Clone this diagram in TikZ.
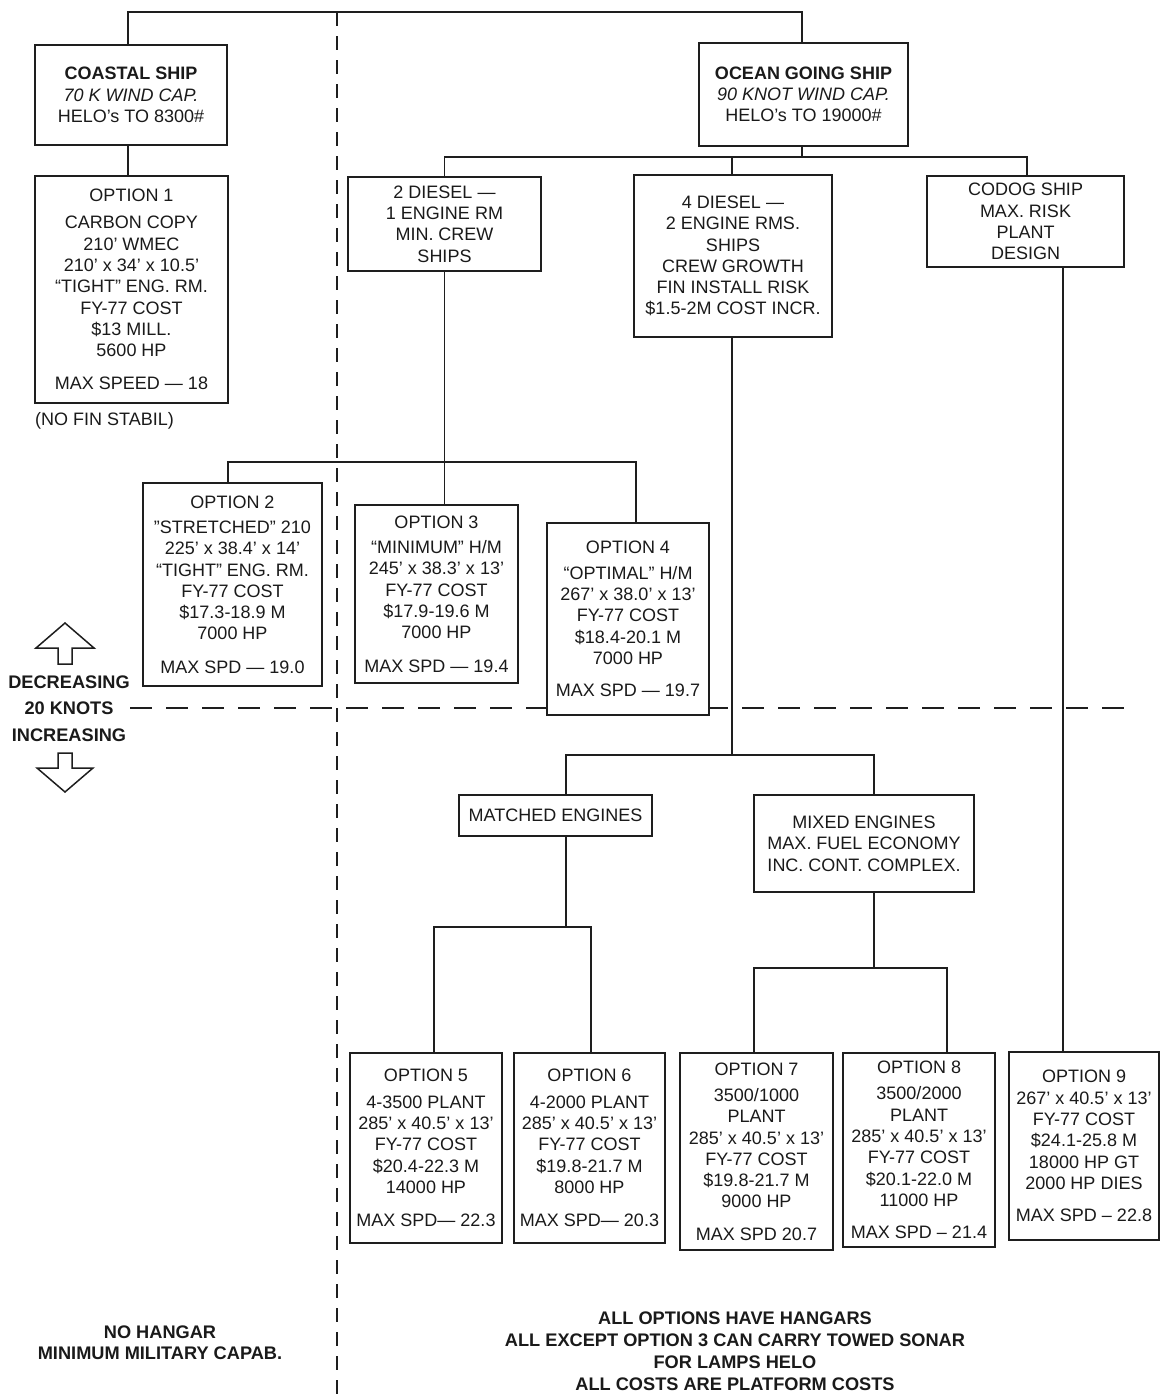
\documentclass[tikz,border=0pt]{standalone}
\usepackage{fontspec}
\setmainfont{Liberation Sans}
\definecolor{linec}{HTML}{1E1E1E}
\definecolor{textc}{HTML}{1A1A1A}
\newcommand\chartfont{\fontsize{18}{21.3}\selectfont}
\newcommand\chartbold{\fontsize{18.2}{22}\selectfont\bfseries}
\begin{document}
\begin{tikzpicture}[x=1pt,y=-1pt,
  chartbox/.style={draw=linec, line width=1.4pt, fill=white, inner sep=0pt, align=center, font=\chartfont, text=textc},
  wire/.style={draw=linec, line width=1.4pt},
  divider/.style={draw=linec, line width=1.4pt, dash pattern=on 14pt off 10pt},
  speedline/.style={draw=linec, line width=1.4pt, dash pattern=on 22pt off 14pt},
  boldlabel/.style={font=\chartbold, text=textc, align=center, inner sep=0pt},
  plainlabel/.style={font=\chartfont, text=textc, inner sep=0pt},
  blockarrow/.style={draw=linec, line width=1.5pt, fill=white, line join=miter}]
\useasboundingbox (0,0) rectangle (1161,1395);
\fill[white] (0,0) rectangle (1161,1395);

% divider lines
\coordinate (vdtop) at (337,12);
\coordinate (vdbot) at (337,1395);
\draw[divider] (vdtop) -- (vdbot);
\coordinate (hdleft) at (130,708);
\coordinate (hdright) at (1125,708);
\draw[speedline] (hdleft) -- (hdright);

% top level
\node[chartbox, minimum width=192pt, minimum height=100pt] (coastal) at (131,95)
  {{\bfseries COASTAL SHIP}\\ {\itshape 70 K WIND CAP.}\\ HELO’s TO 8300\#};
\node[chartbox, minimum width=209pt, minimum height=103pt] (ocean) at (803.5,94.5)
  {{\bfseries OCEAN GOING SHIP}\\ {\itshape 90 KNOT WIND CAP.}\\ HELO’s TO 19000\#};

\node[chartbox, minimum width=193pt, minimum height=227pt] (opt1) at (131.5,289.5)
  {OPTION 1\\[5.7pt] CARBON COPY\\ 210’ WMEC\\ 210’ x 34’ x 10.5’\\ “TIGHT” ENG. RM.\\ FY-77 COST\\ \$13 MILL.\\ 5600 HP\\[11.7pt] MAX SPEED — 18};
\node[plainlabel, anchor=west] (nofin) at (35,421) {(NO FIN STABIL)};

% second level
\node[chartbox, minimum width=193pt, minimum height=94pt] (diesel2) at (444.5,224)
  {2 DIESEL —\\ 1 ENGINE RM\\ MIN. CREW\\ SHIPS};
\node[chartbox, minimum width=198pt, minimum height=162pt] (diesel4) at (733,256)
  {4 DIESEL —\\ 2 ENGINE RMS.\\ SHIPS\\ CREW GROWTH\\ FIN INSTALL RISK\\ \$1.5-2M COST INCR.};
\node[chartbox, minimum width=197pt, minimum height=91pt] (codog) at (1025.5,221.5)
  {CODOG SHIP\\ MAX. RISK\\ PLANT\\ DESIGN};

% options 2-4
\node[chartbox, minimum width=179pt, minimum height=203pt] (opt2) at (232.5,584.5)
  {OPTION 2\\[4pt] \char34 STRETCHED\char34\ 210\\ 225’ x 38.4’ x 14’\\ “TIGHT” ENG. RM.\\ FY-77 COST\\ \$17.3-18.9 M\\ 7000 HP\\[12pt] MAX SPD — 19.0};
\node[chartbox, minimum width=163pt, minimum height=178pt] (opt3) at (436.5,594)
  {OPTION 3\\[4pt] “MINIMUM” H/M\\ 245’ x 38.3’ x 13’\\ FY-77 COST\\ \$17.9-19.6 M\\ 7000 HP\\[12pt] MAX SPD — 19.4};
\node[chartbox, minimum width=162pt, minimum height=192pt] (opt4) at (628,619)
  {OPTION 4\\[4pt] “OPTIMAL” H/M\\ 267’ x 38.0’ x 13’\\ FY-77 COST\\ \$18.4-20.1 M\\ 7000 HP\\[11pt] MAX SPD — 19.7};

% engines
\node[chartbox, minimum width=193pt, minimum height=41pt] (matched) at (555.5,815.5)
  {MATCHED ENGINES};
\node[chartbox, minimum width=220pt, minimum height=97pt] (mixed) at (864,843.5)
  {MIXED ENGINES\\ MAX. FUEL ECONOMY\\ INC. CONT. COMPLEX.};

% options 5-9
\node[chartbox, minimum width=152pt, minimum height=190pt] (opt5) at (426,1148)
  {OPTION 5\\[5pt] 4-3500 PLANT\\ 285’ x 40.5’ x 13’\\ FY-77 COST\\ \$20.4-22.3 M\\ 14000 HP\\[12pt] MAX SPD— 22.3};
\node[chartbox, minimum width=151pt, minimum height=190pt] (opt6) at (589.5,1148)
  {OPTION 6\\[5pt] 4-2000 PLANT\\ 285’ x 40.5’ x 13’\\ FY-77 COST\\ \$19.8-21.7 M\\ 8000 HP\\[12pt] MAX SPD— 20.3};
\node[chartbox, minimum width=153pt, minimum height=197pt] (opt7) at (756.5,1151.5)
  {OPTION 7\\[5pt] 3500/1000\\ PLANT\\ 285’ x 40.5’ x 13’\\ FY-77 COST\\ \$19.8-21.7 M\\ 9000 HP\\[11pt] MAX SPD 20.7};
\node[chartbox, minimum width=152pt, minimum height=194pt] (opt8) at (919,1150)
  {OPTION 8\\[5pt] 3500/2000\\ PLANT\\ 285’ x 40.5’ x 13’\\ FY-77 COST\\ \$20.1-22.0 M\\ 11000 HP\\[11pt] MAX SPD – 21.4};
\node[chartbox, minimum width=150pt, minimum height=188pt] (opt9) at (1084,1146)
  {OPTION 9\\ 267’ x 40.5’ x 13’\\ FY-77 COST\\ \$24.1-25.8 M\\ 18000 HP GT\\ 2000 HP DIES\\[11pt] MAX SPD – 22.8};

% connectors
\coordinate (bar0) at (0,12);
\coordinate (bar1) at (0,157);
\coordinate (bar2) at (0,462);
\coordinate (bar3) at (0,755);
\coordinate (bar4) at (0,927);
\coordinate (bar5) at (0,968);

\draw[wire] ([xshift=-3pt]coastal.north) -- ([xshift=-3pt]coastal.north |- bar0) -| ([xshift=-1.5pt]ocean.north);
\draw[wire] ([xshift=-3pt]coastal.south) -- ([xshift=-3.5pt]opt1.north);

\draw[wire] ([xshift=-1.5pt]ocean.south) -- ([xshift=-1.5pt]ocean.south |- bar1);
\draw[wire] (diesel2.north) -- (diesel2.north |- bar1) -| ([xshift=1.5pt]codog.north);
\draw[wire] ([xshift=-1pt]diesel4.north) -- ([xshift=-1pt]diesel4.north |- bar1);

\draw[wire] (diesel2.south) -- (diesel2.south |- bar2);
\draw[wire] ([xshift=-4.5pt]opt2.north) -- ([xshift=-4.5pt]opt2.north |- bar2) -| ([xshift=8pt]opt4.north);
\draw[wire] ([xshift=8pt]opt3.north) -- ([xshift=8pt]opt3.north |- bar2);

\draw[wire] ([xshift=-1pt]diesel4.south) -- ([xshift=-1pt]diesel4.south |- bar3);
\draw[wire] ([xshift=10.5pt]matched.north) -- ([xshift=10.5pt]matched.north |- bar3) -| ([xshift=10pt]mixed.north);

\draw[wire] ([xshift=10.5pt]matched.south) -- ([xshift=10.5pt]matched.south |- bar4);
\draw[wire] ([xshift=8pt]opt5.north) -- ([xshift=8pt]opt5.north |- bar4) -| ([xshift=1.5pt]opt6.north);

\draw[wire] ([xshift=10pt]mixed.south) -- ([xshift=10pt]mixed.south |- bar5);
\draw[wire] ([xshift=-2.5pt]opt7.north) -- ([xshift=-2.5pt]opt7.north |- bar5) -| ([xshift=28pt]opt8.north);

\draw[wire] ([xshift=37.5pt]codog.south) -- ([xshift=-21pt]opt9.north);

% speed legend
\draw[blockarrow] (65,623) -- (94,648) -- (72,648) -- (72,664) -- (58,664) -- (58,648) -- (36,648) -- cycle;
\node[boldlabel] (decr) at (69,682) {DECREASING};
\node[boldlabel] (knots) at (69,708) {20 KNOTS};
\node[boldlabel] (incr) at (69,735) {INCREASING};
\draw[blockarrow] (65,792) -- (93,768) -- (72,768) -- (72,753) -- (58,753) -- (58,768) -- (37,768) -- cycle;

% notes
\node[boldlabel, font=\fontsize{18.2}{21}\selectfont\bfseries] (nohangar) at (160,1342.5)
  {NO HANGAR\\ MINIMUM MILITARY CAPAB.};
\node[boldlabel, font=\fontsize{18.2}{22}\selectfont\bfseries] (allopts) at (735,1351)
  {ALL OPTIONS HAVE HANGARS\\ ALL EXCEPT OPTION 3 CAN CARRY TOWED SONAR\\ FOR LAMPS HELO\\ ALL COSTS ARE PLATFORM COSTS};
\end{tikzpicture}
\end{document}
